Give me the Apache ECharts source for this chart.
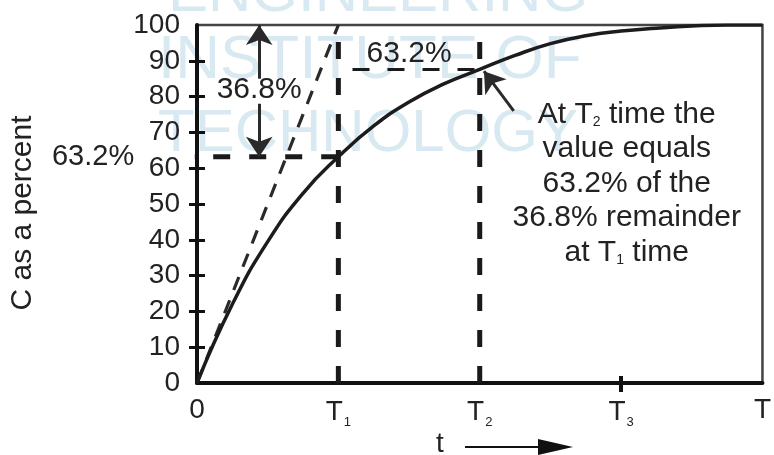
<!DOCTYPE html>
<html>
<head>
<meta charset="utf-8">
<script src="https://cdn.jsdelivr.net/npm/echarts@6/dist/echarts.min.js"></script>
<style>
  html, body { margin: 0; padding: 0; background: #fff; }
  #chart { width: 774px; height: 455px; }
</style>
</head>
<body>
<div id="chart"></div>
<script>
// time in units of T
const tValues = [0, 0.25, 0.5, 0.75, 1, 1.25, 1.5, 1.75, 2, 2.25, 2.5, 2.75, 3, 3.25, 3.5, 3.75, 4];
const cPercent = [0, 22, 39.5, 53, 63.2, 71.8, 78.5, 83.6, 87.6, 91.5, 94.8, 97, 98.3, 99.1, 99.7, 100, 100];
const xTickLabels = ['0', 'T{s|1}', 'T{s|2}', 'T{s|3}', 'T'];
const tangent = [[0, 0], [1, 100]];
const t1Level = 63.2;
const t2Level = 87.6;

const chart = echarts.init(document.getElementById('chart'));
const dark = '#222';
const font = 'Liberation Sans, Arial, sans-serif';

const dashed = (data, width, dash, color) => ({
  type: 'line', data: data, symbol: 'none', clip: false, silent: true,
  lineStyle: { color: color || '#1a1a1a', width: width, type: dash },
  z: 3
});

const txt = (value, extra) => ({
  value: value,
  label: Object.assign({ show: true, color: dark, fontSize: 30, fontFamily: font, textBorderWidth: 0 }, extra)
});

const option = {
  animation: false,
  backgroundColor: '#fff',
  textStyle: { fontFamily: font },
  grid: { left: 195, top: 25, right: 4, bottom: 72, show: true, borderColor: '#444', borderWidth: 2.5, backgroundColor: 'transparent' },
  xAxis: [{
    type: 'value', min: 0, max: 4, interval: 1,
    axisLine: { lineStyle: { color: '#111', width: 4 } },
    axisTick: { show: true, customValues: [3], length: 9, lineStyle: { color: '#111', width: 4 } },
    axisLabel: {
      margin: 13, color: dark, fontSize: 28, fontFamily: font,
      formatter: v => xTickLabels[v],
      rich: { s: { fontSize: 13, padding: [20, 0, 0, 1], color: dark } }
    },
    splitLine: { show: false }
  }, {
    type: 'value', min: 0, max: 4, interval: 1, position: 'bottom',
    axisLine: { show: false },
    axisTick: { show: true, inside: true, customValues: [3], length: 7, lineStyle: { color: '#111', width: 4 } },
    axisLabel: { show: false }, splitLine: { show: false }
  }],
  yAxis: [{
    type: 'value', min: 0, max: 100, interval: 10,
    name: 'C as a percent', nameLocation: 'middle', nameGap: 159,
    nameTextStyle: { fontSize: 30, color: dark, fontFamily: font, padding: [0, 18, 0, 0] },
    axisLine: { show: true, lineStyle: { color: '#111', width: 4 } },
    axisTick: { show: true, customValues: [10, 20, 30, 40, 50, 60, 70, 80, 90], length: 8, lineStyle: { color: '#111', width: 3 } },
    axisLabel: { margin: 17, color: dark, fontSize: 28, fontFamily: font },
    splitLine: { show: false }
  }, {
    type: 'value', min: 0, max: 100, interval: 10, position: 'left',
    axisLine: { show: false },
    axisTick: { show: true, inside: true, customValues: [10, 20, 30, 40, 50, 60, 70, 80, 90], length: 8, lineStyle: { color: '#111', width: 3 } },
    axisLabel: { show: false }, splitLine: { show: false }
  }],
  graphic: [
    { type: 'text', left: 168, top: -36, z: -10, silent: true, style: { text: 'ENGINEERING', font: '60px ' + font, fill: '#d8e9f1' } },
    { type: 'text', left: 158, top: 30, z: -10, silent: true, style: { text: 'INSTITUTE OF', font: '62px ' + font, fill: '#d8e9f1' } },
    { type: 'text', left: 158, top: 104, z: -10, silent: true, style: { text: 'TECHNOLOGY', font: '60px ' + font, fill: '#d8e9f1' } },
    { type: 'text', left: 436, top: 430, style: { text: 't', font: '28px ' + font, fill: dark } },
    { type: 'line', shape: { x1: 465, y1: 447, x2: 545, y2: 447 }, style: { stroke: '#111', lineWidth: 2 } },
    { type: 'polygon', shape: { points: [[538, 439], [573, 447], [538, 455]] }, style: { fill: '#111' } }
  ],
  series: [
    dashed(tangent, 3.2, [14, 11], '#2a2a2a'),
    dashed([[-0.14, t1Level], [1, t1Level]], 5, [17, 19]),
    dashed([[1, 0], [1, 100]], 5, [17, 19]),
    dashed([[2, 0], [2, 100]], 5, [17, 19]),
    dashed([[1.1, t2Level], [2, t2Level]], 3, [17, 18]),
    {
      type: 'line', data: tValues.map((t, i) => [t, cPercent[i]]), smooth: true, symbol: 'none',
      lineStyle: { color: '#1c1c1c', width: 3.5 }, z: 4,
      markLine: {
        silent: true, symbol: ['none', 'arrow'], symbolSize: [20, 20], label: { show: false },
        lineStyle: { color: '#2a2a2a', width: 3, type: 'solid' },
        data: [
          [{ coord: [0.44, 85] }, { coord: [0.44, 100] }],
          [{ coord: [0.44, 78] }, { coord: [0.44, t1Level] }],
          [{ coord: [2.24, 76] }, { coord: [2.03, t2Level - 0.5] }]
        ]
      }
    },
    {
      type: 'scatter', symbolSize: 0, clip: false, silent: true, z: 6,
      itemStyle: { opacity: 1 },
      data: [
        txt([-0.14, t1Level], { position: 'left', distance: 43, formatter: '63.2%', fontSize: 29 }),
        txt([0.44, 82], { position: 'inside', formatter: '36.8%' }),
        txt([1.5, t2Level], { position: 'top', distance: 1, formatter: '63.2%' }),
        txt([3.04, 55.8], {
          position: 'inside', align: 'center', lineHeight: 34.5,
          formatter: 'At T{s|2} time the\nvalue equals\n63.2% of the\n36.8% remainder\nat T{s|1} time',
          rich: { s: { fontSize: 14, lineHeight: 34.5, padding: [16, 0, 0, 0], color: dark } }
        })
      ]
    }
  ]
};
chart.setOption(option);
</script>
</body>
</html>
